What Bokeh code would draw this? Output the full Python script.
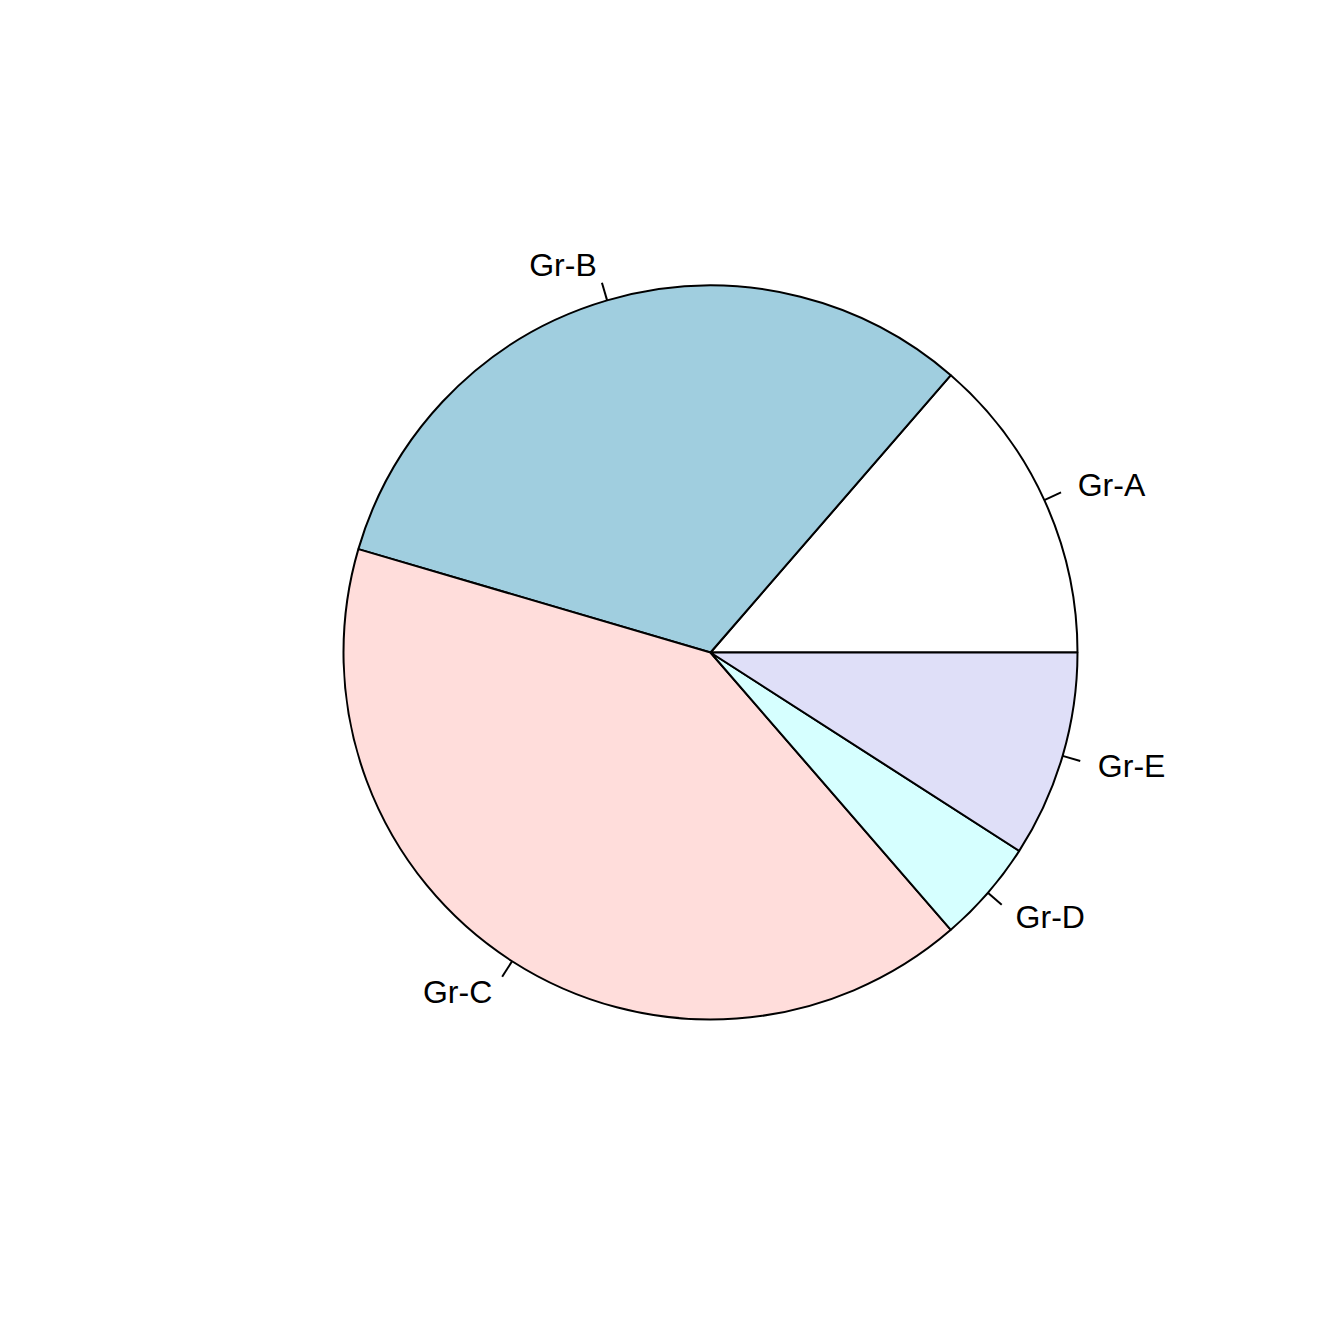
import numpy as np
from bokeh.plotting import figure
from bokeh.models import Range1d, ColumnDataSource
from bokeh.core.properties import value
from bokeh.embed import file_html
from bokeh.resources import INLINE

labels = ["Gr-A", "Gr-B", "Gr-C", "Gr-D", "Gr-E"]
values = [15, 35, 45, 5, 10]
colors = ["#FFFFFF", "#A0CEDF", "#FFDDDB", "#D6FFFF", "#DFDFF8"]

vals = np.array(values, dtype=float)
frac = vals / vals.sum()
ends = np.cumsum(frac) * 2 * np.pi
starts = np.concatenate([[0.0], ends[:-1]])
mids = (starts + ends) / 2

W = H = 1328
scale = 367.0  # pixels per unit radius
cx, cy = 710, 652  # centre in figure pixels
x_range = Range1d(-cx / scale, (W - cx) / scale)
y_range = Range1d(-(H - cy) / scale, cy / scale)

p = figure(width=W, height=H, x_range=x_range, y_range=y_range,
           output_backend="svg", toolbar_location=None, min_border=0)
p.axis.visible = False
p.grid.visible = False
p.outline_line_color = None
p.background_fill_color = "white"
p.border_fill_color = "white"

src = ColumnDataSource(dict(start=starts, end=ends, color=colors))
p.wedge(x=0, y=0, radius=1, start_angle="start", end_angle="end",
        direction="anticlock", fill_color="color", line_color="black",
        line_width=2, source=src)

# ticks
tx0 = np.cos(mids)
ty0 = np.sin(mids)
p.segment(x0=tx0, y0=ty0, x1=1.05 * tx0, y1=1.05 * ty0,
          line_color="black", line_width=2)

# labels
lx = 1.1 * np.cos(mids)
ly = 1.1 * np.sin(mids)
align = ["left" if c > 0 else "right" for c in np.cos(mids)]
lsrc = ColumnDataSource(dict(x=lx, y=ly, text=labels, align=align))
p.text(x="x", y="y", text="text", text_align="align", text_baseline="middle",
       text_font=value("Liberation Sans"), text_font_size="32px",
       text_color="black", source=lsrc)

open("out.html", "w").write(file_html(p, INLINE))
